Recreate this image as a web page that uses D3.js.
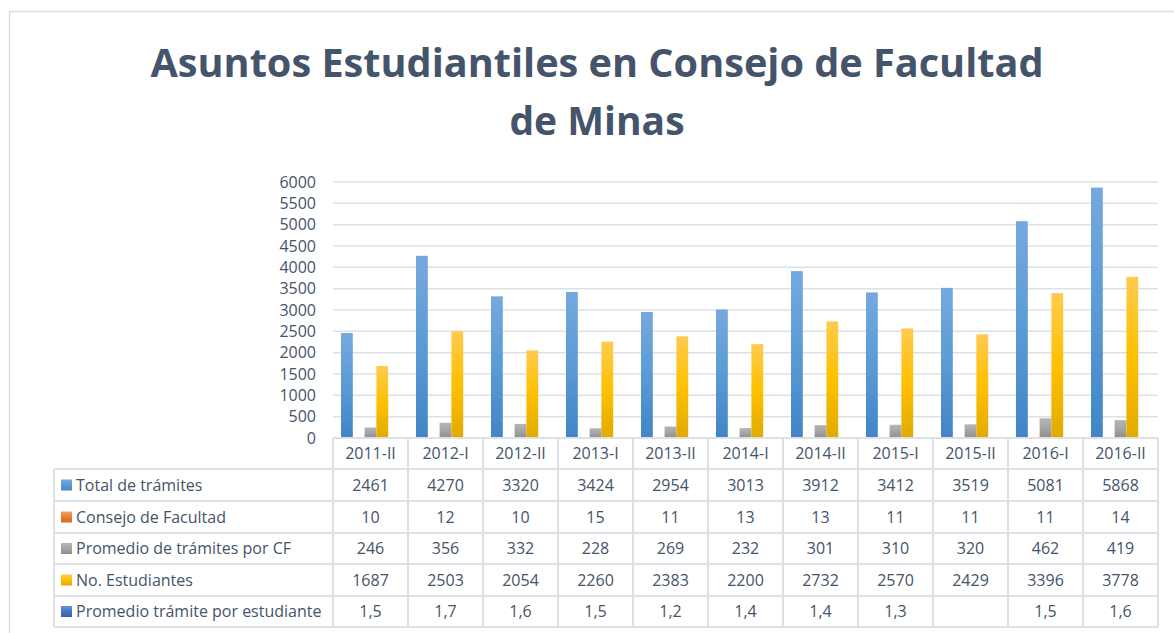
<!DOCTYPE html>
<html>
<head>
<meta charset="utf-8">
<script src="https://cdn.jsdelivr.net/npm/d3@7"></script>
<style>
  body { margin: 0; background: #fff; }
  svg { display: block; font-family: "Open Sans", sans-serif; }
</style>
</head>
<body>
<div id="chart"></div>
<script>
// data
const categories = ["2011-II", "2012-I", "2012-II", "2013-I", "2013-II", "2014-I", "2014-II", "2015-I", "2015-II", "2016-I", "2016-II"];
const seriesNames = ["Total de trámites", "Consejo de Facultad", "Promedio de trámites por CF", "No. Estudiantes", "Promedio trámite por estudiante"];
const totalTramites = [2461, 4270, 3320, 3424, 2954, 3013, 3912, 3412, 3519, 5081, 5868];
const consejoFacultad = [10, 12, 10, 15, 11, 13, 13, 11, 11, 11, 14];
const promedioCF = [246, 356, 332, 228, 269, 232, 301, 310, 320, 462, 419];
const noEstudiantes = [1687, 2503, 2054, 2260, 2383, 2200, 2732, 2570, 2429, 3396, 3778];
const promedioEstudiante = [1.5, 1.7, 1.6, 1.5, 1.2, 1.4, 1.4, 1.3, null, 1.5, 1.6];
const yTicks = [0, 500, 1000, 1500, 2000, 2500, 3000, 3500, 4000, 4500, 5000, 5500, 6000];

const seriesValues = [totalTramites, consejoFacultad, promedioCF, noEstudiantes, promedioEstudiante];
const colors = [
  ["#75a9de", "#5b9bd5", "#4185c6"],
  ["#f4a26c", "#ed7d31", "#d36a22"],
  ["#b5b5b5", "#a5a5a5", "#8d8d8d"],
  ["#ffcb4f", "#ffc000", "#e0aa00"],
  ["#6f92d6", "#4472c4", "#3560ad"]
];

const width = 1174, height = 633;
const textColor = "#44546a";
const lineColor = "#dde1e6";
const fontSize = 16;

const svg = d3.select("#chart").append("svg")
  .attr("width", width)
  .attr("height", height);

// gradients
const defs = svg.append("defs");
colors.forEach((c, i) => {
  const g = defs.append("linearGradient")
    .attr("id", "grad" + i)
    .attr("x1", 0).attr("y1", 0).attr("x2", 0).attr("y2", 1);
  g.append("stop").attr("offset", "0%").attr("stop-color", c[0]);
  g.append("stop").attr("offset", "50%").attr("stop-color", c[1]);
  g.append("stop").attr("offset", "100%").attr("stop-color", c[2]);
});

// chart frame
svg.append("rect")
  .attr("x", 9.5).attr("y", 11.5)
  .attr("width", 1200).attr("height", 700)
  .attr("fill", "none")
  .attr("stroke", "#d9dde2")
  .attr("stroke-width", 1.5);

// title
const title = svg.append("g")
  .attr("fill", textColor)
  .attr("font-weight", "bold")
  .attr("font-size", 39)
  .attr("text-anchor", "middle");
title.append("text").attr("x", 597).attr("y", 77)
  .attr("textLength", 893).attr("lengthAdjust", "spacingAndGlyphs")
  .text("Asuntos Estudiantiles en Consejo de Facultad");
title.append("text").attr("x", 597).attr("y", 135).text("de Minas");

// scales
const plotLeft = 333, plotRight = 1158, plotTop = 182, plotBottom = 438;
const x = d3.scaleBand().domain(categories).range([plotLeft, plotRight]);
const xs = d3.scaleBand().domain(d3.range(seriesNames.length)).range([8, x.bandwidth() - 8]);
const y = d3.scaleLinear().domain([0, 6000]).range([plotBottom, plotTop]);

// gridlines
svg.append("g")
  .selectAll("line")
  .data(yTicks.slice(1))
  .join("line")
  .attr("x1", plotLeft).attr("x2", plotRight)
  .attr("y1", d => y(d)).attr("y2", d => y(d))
  .attr("stroke", lineColor)
  .attr("stroke-width", 1.5);

// y axis
const yAxis = svg.append("g")
  .attr("transform", `translate(${plotLeft},0)`)
  .call(d3.axisLeft(y).tickValues(yTicks).tickFormat(d3.format("d")).tickSize(0).tickPadding(17));
yAxis.select(".domain").remove();
yAxis.selectAll("text")
  .attr("fill", textColor)
  .attr("font-size", fontSize)
  .attr("font-family", "Open Sans, sans-serif");

// bars
seriesValues.forEach((vals, si) => {
  svg.append("g")
    .selectAll("rect")
    .data(vals.map((v, i) => ({ cat: categories[i], v })).filter(d => d.v != null))
    .join("rect")
    .attr("x", d => x(d.cat) + xs(si))
    .attr("y", d => y(d.v))
    .attr("width", xs.bandwidth())
    .attr("height", d => plotBottom - y(d.v))
    .attr("fill", `url(#grad${si})`);
});

// data table
const tableLeft = 54;
const rowEdges = [438, 469, 501, 533, 564, 596, 627];
const table = svg.append("g");
const fmt = v => v == null ? "" : String(v).replace(".", ",");

// horizontal lines
table.append("line")
  .attr("x1", plotLeft).attr("x2", plotRight)
  .attr("y1", rowEdges[0]).attr("y2", rowEdges[0])
  .attr("stroke", lineColor).attr("stroke-width", 2);
rowEdges.slice(1).forEach(ry => {
  table.append("line")
    .attr("x1", tableLeft).attr("x2", plotRight)
    .attr("y1", ry).attr("y2", ry)
    .attr("stroke", lineColor).attr("stroke-width", 2);
});

// vertical lines
table.append("line")
  .attr("x1", tableLeft).attr("x2", tableLeft)
  .attr("y1", rowEdges[1]).attr("y2", rowEdges[6])
  .attr("stroke", lineColor).attr("stroke-width", 2);
categories.concat(["end"]).forEach((c, i) => {
  const vx = i < categories.length ? x(c) : plotRight;
  table.append("line")
    .attr("x1", vx).attr("x2", vx)
    .attr("y1", rowEdges[0]).attr("y2", rowEdges[6])
    .attr("stroke", lineColor).attr("stroke-width", 2);
});

// header labels
table.append("g")
  .selectAll("text")
  .data(categories)
  .join("text")
  .attr("x", d => x(d) + x.bandwidth() / 2)
  .attr("y", (rowEdges[0] + rowEdges[1]) / 2)
  .attr("dy", "0.35em")
  .attr("text-anchor", "middle")
  .attr("font-size", fontSize)
  .attr("fill", textColor)
  .text(d => d);

// rows
seriesNames.forEach((name, si) => {
  const cy = (rowEdges[si + 1] + rowEdges[si + 2]) / 2;
  table.append("rect")
    .attr("x", 61).attr("y", cy - 5.5)
    .attr("width", 11).attr("height", 11)
    .attr("fill", `url(#grad${si})`);
  table.append("text")
    .attr("x", 76).attr("y", cy)
    .attr("dy", "0.35em")
    .attr("font-size", fontSize)
    .attr("fill", textColor)
    .text(name);
  table.append("g")
    .selectAll("text")
    .data(seriesValues[si])
    .join("text")
    .attr("x", (d, i) => x(categories[i]) + x.bandwidth() / 2)
    .attr("y", cy)
    .attr("dy", "0.35em")
    .attr("text-anchor", "middle")
    .attr("font-size", fontSize)
    .attr("fill", textColor)
    .text(d => fmt(d));
});
</script>
</body>
</html>
